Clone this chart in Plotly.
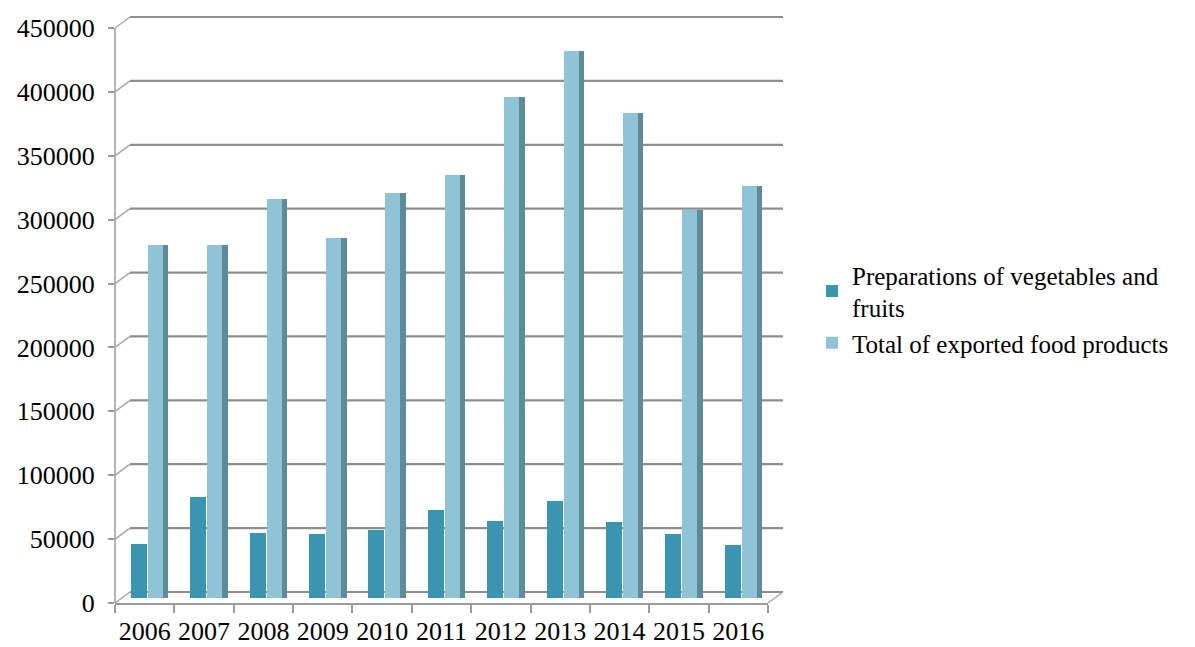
import plotly.graph_objects as go

years = ["2006", "2007", "2008", "2009", "2010", "2011", "2012", "2013", "2014", "2015", "2016"]
preparations = [42200, 78900, 50800, 50000, 53100, 68700, 60100, 75800, 59400, 50000, 41400]
total_exported = [276600, 276600, 312500, 282000, 317000, 331000, 392000, 428000, 379700, 304000, 322600]
y_ticks = [0, 50000, 100000, 150000, 200000, 250000, 300000, 350000, 400000, 450000]

FONT = "Liberation Serif"
C_PREP = "#3a96b0"
C_TOTAL = "#8ec4d6"
C_SIDE = "#5e8b9a"
GRID = "#8e8e8e"

# pixel geometry of the plot area
W, H = 1195, 647
L, R_EDGE, TOP, BOTTOM = 115, 768, 12, 603
per_px = 450000 / 575.0
y1_top = (BOTTOM - TOP) * per_px
back_shift = 11 * per_px          # back wall is 11 px higher than the front axis
bar_shift = 5 * per_px            # bars stand 5 px above the front axis
depth_x = 15 / (R_EDGE - L)       # horizontal depth of the 3-D box in paper units

fig = go.Figure()
fig.add_trace(go.Bar(x=years, y=preparations, name="Preparations of vegetables and<br>fruits",
                     marker=dict(color=C_PREP, line=dict(width=0)),
                     offset=-0.231, width=0.27, yaxis="y2"))
fig.add_trace(go.Bar(x=years, y=total_exported, name="side", showlegend=False,
                     marker=dict(color=C_SIDE, line=dict(width=0)),
                     offset=0.30, width=0.10, yaxis="y2", hoverinfo="skip"))
fig.add_trace(go.Bar(x=years, y=total_exported, name="Total of exported food products",
                     marker=dict(color=C_TOTAL, line=dict(width=0)),
                     offset=0.056, width=0.253, yaxis="y2"))

shapes = []
for v in y_ticks:
    # back-wall gridline
    shapes.append(dict(type="line", xref="paper", yref="y", layer="below",
                       x0=depth_x, x1=1 + depth_x, y0=v + back_shift, y1=v + back_shift,
                       line=dict(color=GRID, width=2.2)))
    # connector from front axis tick to back wall
    shapes.append(dict(type="line", xref="paper", yref="y", layer="below",
                       x0=0, x1=depth_x, y0=v, y1=v + back_shift,
                       line=dict(color="#a8a8a8", width=1.5)))
# front vertical axis line
shapes.append(dict(type="line", xref="paper", yref="y", x0=0, x1=0, y0=0, y1=y_ticks[-1],
                   line=dict(color="#9a9a9a", width=1.5)))
# right edge of floor
shapes.append(dict(type="line", xref="paper", yref="y", x0=1, x1=1 + depth_x, y0=0, y1=back_shift,
                   line=dict(color="#a8a8a8", width=1.5)))

fig.update_layout(
    width=W, height=H,
    margin=dict(l=L, r=W - R_EDGE, t=TOP, b=H - BOTTOM, autoexpand=False),
    paper_bgcolor="white", plot_bgcolor="white",
    barmode="overlay",
    bargap=0,
    font=dict(family=FONT, size=26, color="black"),
    shapes=shapes,
    showlegend=True,
    legend=dict(x=(812 - L) / (R_EDGE - L), y=(BOTTOM - 252) / (BOTTOM - TOP),
                xanchor="left", yanchor="top",
                font=dict(family=FONT, size=25, color="black"),
                bgcolor="rgba(0,0,0,0)", tracegroupgap=2, traceorder="normal"),
    xaxis=dict(type="category", range=[-0.5, 10.5], tickson="boundaries",
               ticks="outside", ticklen=8, tickcolor="#9a9a9a", tickwidth=1.5,
               showline=True, linecolor="#9a9a9a", linewidth=1.5,
               showgrid=False, zeroline=False, tickangle=0, automargin=False,
               ticklabelstandoff=4,
               tickfont=dict(family=FONT, size=26)),
    yaxis=dict(range=[0, y1_top], tickvals=y_ticks, ticktext=[str(v) for v in y_ticks],
               ticks="outside", ticklen=6, tickcolor="#9a9a9a", tickwidth=1.5,
               showline=False, showgrid=False, zeroline=False, automargin=False,
               ticklabelstandoff=8,
               tickfont=dict(family=FONT, size=26)),
    yaxis2=dict(range=[-bar_shift, y1_top - bar_shift], overlaying="y", side="left",
                showticklabels=False, showgrid=False, zeroline=False, showline=False,
                ticks="", automargin=False),
)

fig.write_html("out.html")
